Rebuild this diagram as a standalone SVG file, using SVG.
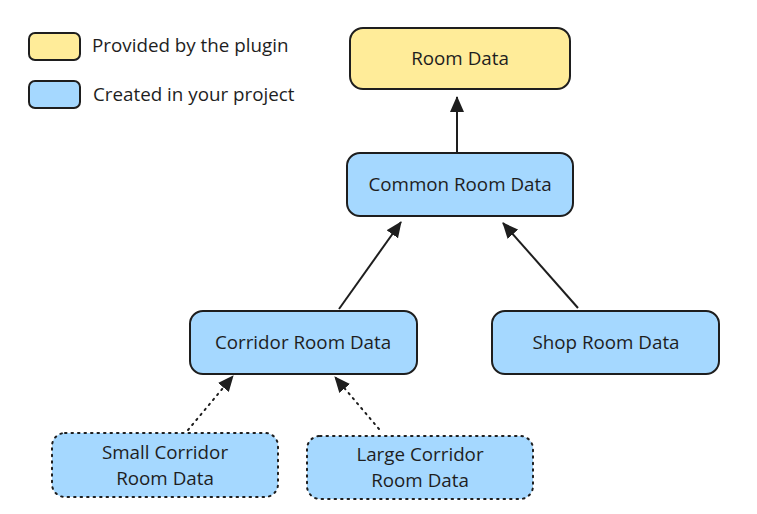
<svg xmlns="http://www.w3.org/2000/svg" width="757" height="514" viewBox="0 0 757 514">
<defs>
<style>
.box{stroke:#1e1e1e;stroke-width:2}
.y{fill:#ffec99}
.b{fill:#a5d8ff}
.dot{stroke-dasharray:1.5 5;stroke-linecap:round}
text{font-family:"Open Sans","Liberation Sans",sans-serif;font-size:18.8px;fill:#1e1e1e}
.c{text-anchor:middle}
.ln{stroke:#1e1e1e;stroke-width:2;fill:none}
</style>
<marker id="ah" viewBox="0 0 16 14" refX="15" refY="7" markerWidth="16" markerHeight="14" markerUnits="userSpaceOnUse" orient="auto">
<path d="M0,0 L16,7 L0,14 Z" fill="#1e1e1e"/>
</marker>
</defs>
<rect width="757" height="514" fill="#fff"/>
<g id="legend">
<rect class="box y" x="29" y="33" width="51" height="27" rx="6"/>
<text x="92" y="52">Provided by the plugin</text>
<rect class="box b" x="29" y="81" width="51" height="27" rx="6"/>
<text x="93" y="101">Created in your project</text>
</g>
<g id="connectors">
<line class="ln" x1="457" y1="152" x2="457" y2="97" marker-end="url(#ah)"/>
<line class="ln" x1="339" y1="309" x2="401" y2="222" marker-end="url(#ah)"/>
<line class="ln" x1="578" y1="308" x2="503" y2="223" marker-end="url(#ah)"/>
<line class="ln dot" x1="188" y1="430" x2="233" y2="376" marker-end="url(#ah)"/>
<line class="ln dot" x1="379" y1="429" x2="335" y2="377" marker-end="url(#ah)"/>
</g>
<g id="room-data">
<rect class="box y" x="350" y="28" width="220" height="61" rx="13"/>
<text class="c" x="460" y="65">Room Data</text>
</g>
<g id="common-room-data">
<rect class="box b" x="347" y="153" width="226" height="63" rx="13"/>
<text class="c" x="460" y="191">Common Room Data</text>
</g>
<g id="corridor-room-data">
<rect class="box b" x="190" y="311" width="227" height="63" rx="13"/>
<text class="c" x="303" y="349">Corridor Room Data</text>
</g>
<g id="shop-room-data">
<rect class="box b" x="492" y="311" width="227" height="63" rx="13"/>
<text class="c" x="606" y="349">Shop Room Data</text>
</g>
<g id="small-corridor-room-data">
<rect class="box b dot" x="52" y="433" width="226" height="64" rx="13"/>
<text class="c" x="165" y="459">Small Corridor</text>
<text class="c" x="165" y="485">Room Data</text>
</g>
<g id="large-corridor-room-data">
<rect class="box b dot" x="307" y="436" width="226" height="63" rx="13"/>
<text class="c" x="420" y="461">Large Corridor</text>
<text class="c" x="420" y="487">Room Data</text>
</g>
</svg>
